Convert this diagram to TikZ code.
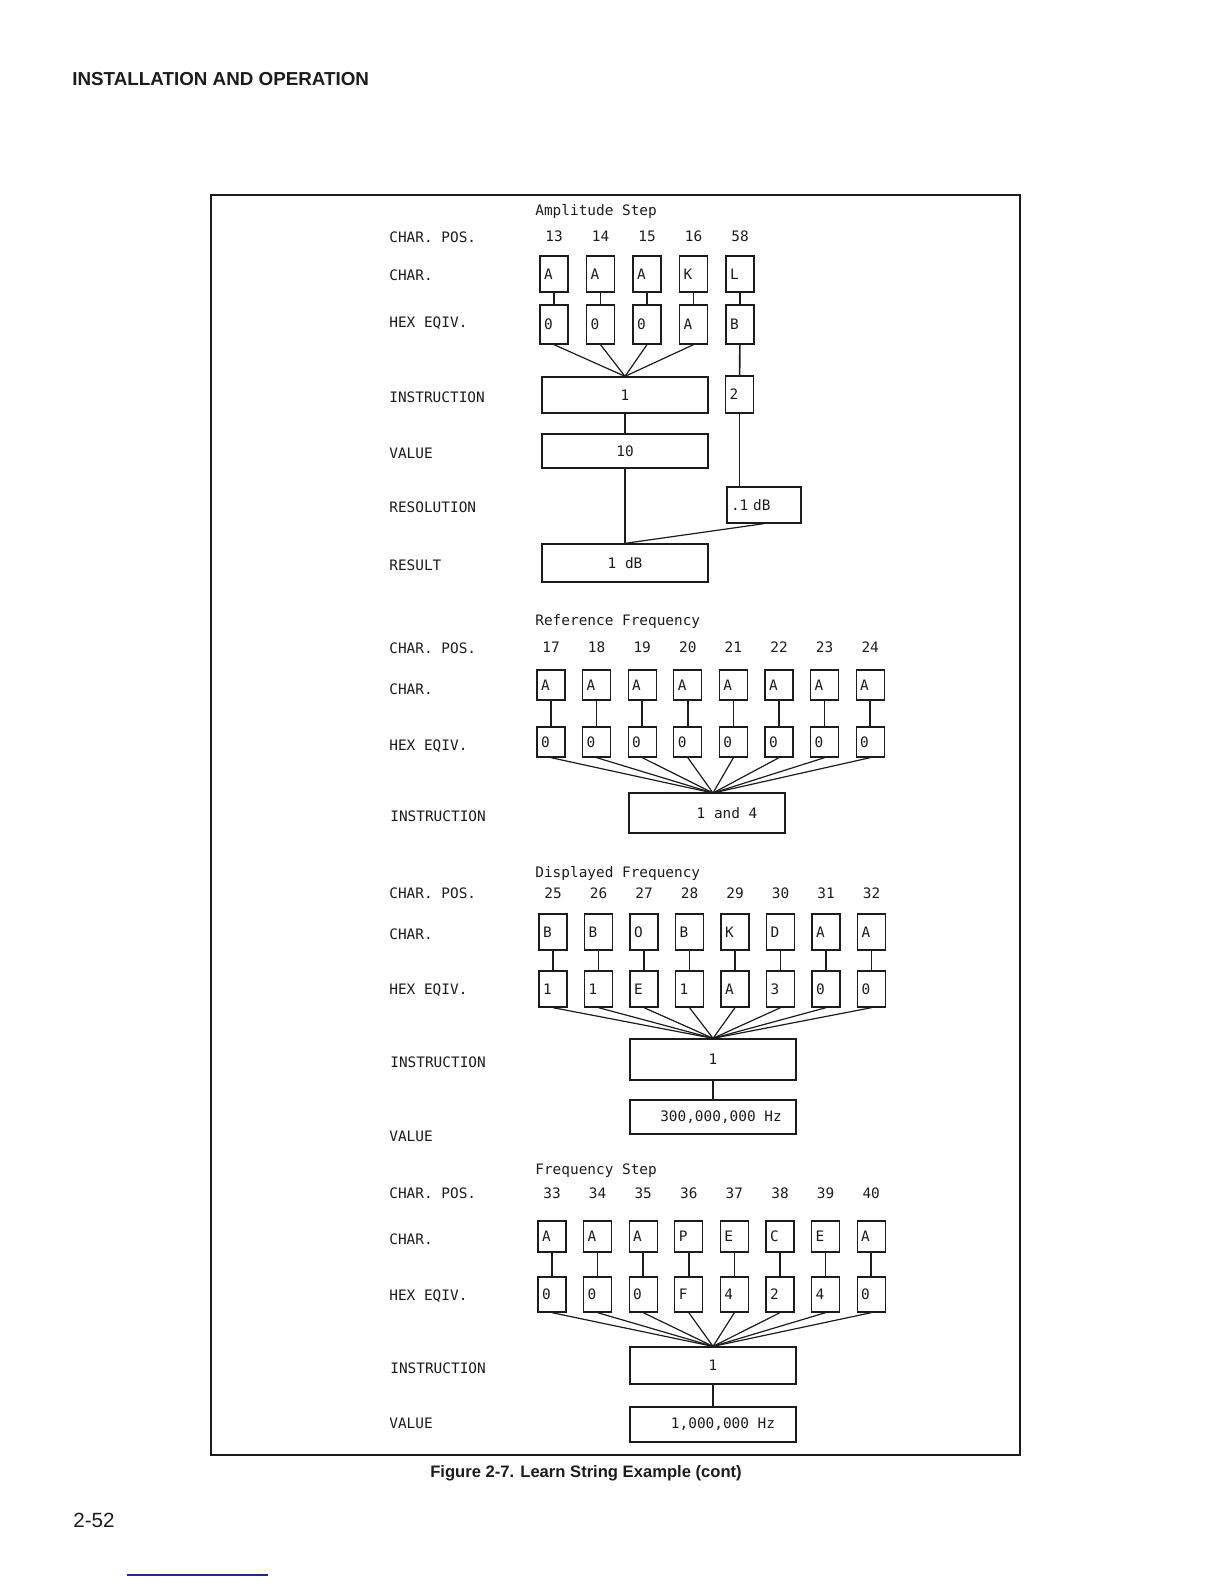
\documentclass[tikz,border=0pt]{standalone}
\usepackage{fontspec}
\setmainfont{Liberation Sans}
\setmonofont{DejaVu Sans Mono}
\usepackage{xcolor}
\definecolor{scanink}{HTML}{1C1C1C}
\definecolor{linkblue}{HTML}{1F2A80}

\begin{document}
\begin{tikzpicture}[x=0.5pt, y=-0.5pt,
  every node/.style={font=\ttfamily\fontsize{7.2}{8}\selectfont, text=scanink},
  rowlabel/.style={anchor=west, inner sep=0pt},
  chbox/.style={draw=scanink, line width=0.65pt, text width=10pt, align=left, inner sep=2pt, minimum height=#1},
  insbox/.style={draw=scanink, line width=0.65pt, minimum width=83pt, inner sep=1pt, minimum height=#1},
  wire/.style={draw=scanink, line width=0.8pt},
  fan/.style={draw=scanink, line width=0.6pt}]

  \useasboundingbox (0,0) rectangle (1224,1584);

  \node[font=\bfseries\fontsize{9.4}{11}\selectfont, anchor=west, inner sep=0pt] (header) at (72,79) {INSTALLATION AND OPERATION};
  \draw[scanink, line width=0.9pt] (211,195) rectangle (1020,1455);
  \node[font=\bfseries\fontsize{8.3}{10}\selectfont, inner sep=0pt] (caption) at (586,1473) {Figure 2-7. Learn String Example (cont)};
  \node[font=\fontsize{10.3}{12}\selectfont, anchor=west, inner sep=0pt] (pagenum) at (73,1520) {2-52};
  \draw[linkblue, line width=0.8pt] (127,1575) -- (268,1575);

  % amplitude step
  \node[rowlabel] (s1lpos) at (389,237) {CHAR. POS.};
  \node[rowlabel] (s1lchar) at (389,275) {CHAR.};
  \node[rowlabel] (s1lhex) at (389,323) {HEX EQIV.};
  \node[rowlabel] (s1lins) at (389,397) {INSTRUCTION};
  \node[rowlabel] (s1lval) at (389,453) {VALUE};
  \node[rowlabel] (s1lres) at (389,507) {RESOLUTION};
  \node[rowlabel] (s1lrst) at (389,565) {RESULT};
  \node[rowlabel] (s1title) at (535,211) {Amplitude Step};
  \foreach \n/\ch/\hx [count=\i from 0] in {13/A/0,14/A/0,15/A/0,16/K/A,58/L/B} {
    \node (s1n\i) at ({554+46.5*\i},236) {\n};
    \node[chbox=18pt] (s1c\i) at ({554+46.5*\i},274) {\ch};
    \node[chbox=19.5pt] (s1h\i) at ({554+46.5*\i},324.5) {\hx};
    \draw[wire] (s1c\i) -- (s1h\i);
  }
  \node[insbox=18pt] (s1ins) at (625,395) {1};
  \node[chbox=18.5pt] (s1ins2) at (739.5,394.5) {2};
  \node[insbox=17pt] (s1val) at (625,451) {10};
  \node[draw=scanink, line width=0.65pt, text width=33pt, align=left, inner sep=2pt, minimum height=18pt] (s1res) at (764,505) {.1 dB};
  \node[insbox=19pt] (s1rst) at (625,563) {1 dB};
  \foreach \i in {0,...,3}
    \draw[fan] (s1h\i.south) -- (s1ins.north);
  \draw[wire] (s1h4) -- (s1ins2);
  \draw[wire] (s1ins2.south) -- (s1ins2.south |- s1res.north);
  \draw[wire] (s1ins) -- (s1val);
  \draw[wire] (s1val) -- (s1rst);
  \draw[fan] (s1res.south) -- (s1rst.north);

  % reference frequency
  \node[rowlabel] (s2lpos) at (389,648) {CHAR. POS.};
  \node[rowlabel] (s2lchar) at (389,689) {CHAR.};
  \node[rowlabel] (s2lhex) at (389,746) {HEX EQIV.};
  \node[rowlabel] (s2lins) at (390,816) {INSTRUCTION};
  \node[rowlabel] (s2title) at (535,622) {Reference Frequency};
  \coordinate (s2join) at (713,793);
  \foreach \n/\ch/\hx [count=\i from 0] in {17/A/0,18/A/0,19/A/0,20/A/0,21/A/0,22/A/0,23/A/0,24/A/0} {
    \node (s2n\i) at ({551+45.6*\i},647) {\n};
    \node[chbox=15pt] (s2c\i) at ({551+45.6*\i},685) {\ch};
    \node[chbox=15pt] (s2h\i) at ({551+45.6*\i},742) {\hx};
    \draw[wire] (s2c\i) -- (s2h\i);
    \draw[fan] (s2h\i.south) -- (s2join);
  }
  \node[insbox=20pt, minimum width=78pt] (s2ins) at (707,813) {\hspace*{20pt}1 and 4};

  % displayed frequency
  \node[rowlabel] (s3lpos) at (389,893) {CHAR. POS.};
  \node[rowlabel] (s3lchar) at (389,934) {CHAR.};
  \node[rowlabel] (s3lhex) at (389,990) {HEX EQIV.};
  \node[rowlabel] (s3lins) at (390,1062) {INSTRUCTION};
  \node[rowlabel] (s3lval) at (389,1136) {VALUE};
  \node[rowlabel] (s3title) at (535,873) {Displayed Frequency};
  \foreach \n/\ch/\hx [count=\i from 0] in {25/B/1,26/B/1,27/O/E,28/B/1,29/K/A,30/D/3,31/A/0,32/A/0} {
    \node (s3n\i) at ({553+45.5*\i},893) {\n};
    \node[chbox=18pt] (s3c\i) at ({553+45.5*\i},932) {\ch};
    \node[chbox=18pt] (s3h\i) at ({553+45.5*\i},989) {\hx};
    \draw[wire] (s3c\i) -- (s3h\i);
  }
  \node[insbox=20.5pt] (s3ins) at (713,1059.5) {1};
  \node[insbox=17pt] (s3val) at (713,1117) {\hspace*{8pt}300,000,000 Hz};
  \foreach \i in {0,...,7}
    \draw[fan] (s3h\i.south) -- (s3ins.north);
  \draw[wire] (s3ins) -- (s3val);

  % frequency step
  \node[rowlabel] (s4lpos) at (389,1193) {CHAR. POS.};
  \node[rowlabel] (s4lchar) at (389,1239) {CHAR.};
  \node[rowlabel] (s4lhex) at (389,1296) {HEX EQIV.};
  \node[rowlabel] (s4lins) at (390,1368) {INSTRUCTION};
  \node[rowlabel] (s4lval) at (389,1423) {VALUE};
  \node[rowlabel] (s4title) at (535,1171) {Frequency Step};
  \foreach \n/\ch/\hx [count=\i from 0] in {33/A/0,34/A/0,35/A/0,36/P/F,37/E/4,38/C/2,39/E/4,40/A/0} {
    \node (s4n\i) at ({552+45.6*\i},1193) {\n};
    \node[chbox=15.5pt] (s4c\i) at ({552+45.6*\i},1236.5) {\ch};
    \node[chbox=17.5pt] (s4h\i) at ({552+45.6*\i},1294.5) {\hx};
    \draw[wire] (s4c\i) -- (s4h\i);
  }
  \node[insbox=18.5pt] (s4ins) at (713,1365.5) {1};
  \node[insbox=17.5pt] (s4val) at (713,1424.5) {\hspace*{10pt}1,000,000 Hz};
  \foreach \i in {0,...,7}
    \draw[fan] (s4h\i.south) -- (s4ins.north);
  \draw[wire] (s4ins) -- (s4val);

\end{tikzpicture}
\end{document}
